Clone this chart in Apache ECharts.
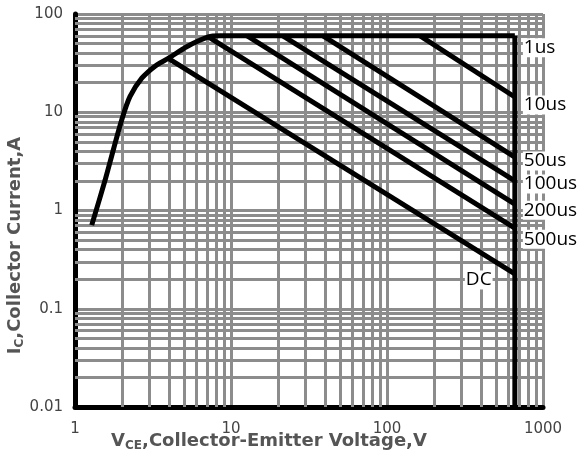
<!DOCTYPE html>
<html><head><meta charset="utf-8">
<script src="https://cdn.jsdelivr.net/npm/echarts@6/dist/echarts.min.js"></script>
<style>html,body{margin:0;padding:0;background:#fff}#c{width:584px;height:457px}</style>
</head><body><div id="c"></div>
<script>
// ---- data ----
const xTicks = [1, 10, 100, 1000];
const yTicks = [0.01, 0.1, 1, 10, 100];
const vceLimit = 660;     // V, right boundary
const icMax = 60;         // A, top boundary
const icMin = 0.01;
const soaCurveV = [1.28, 1.56, 1.76, 1.99, 2.25, 2.68, 3.34, 3.96, 5.2, 7.16, 8.5];
const soaCurveI = [0.71, 2.04, 4.13, 8.3, 14.4, 22.2, 30.3, 35.3, 46.5, 58.5, 60];
const topStartV = 8.5;
const pulseLabels = ['10us', '50us', '100us', '200us', '500us'];
const pulseStartV = [163, 38.9, 21.5, 12.7, 7.2];
const pulseStartI = [60, 60, 60, 60, 58.3];
const pulseEndI = [14.3, 3.5, 2.0, 1.16, 0.66];
const dcStartV = 3.96, dcStartI = 35.3, dcEndI = 0.226;
const topLabel = '1us', dcLabel = 'DC';

// minor grid positions (log decades 2..9)
const xMinor = [], yMinor = [];
[1, 10, 100].forEach(d => { for (let k = 2; k <= 9; k++) xMinor.push(k * d); });
[0.01, 0.1, 1, 10].forEach(d => { for (let k = 2; k <= 9; k++) yMinor.push(+(k * d).toPrecision(3)); });

// ---- styles ----
const pulseOffsets = [8, 4, 3, 6, 11];
const LW = 5;
const gridColor = '#8c8c8c';
const labelStyle = (txt, off) => ({
  show: true, formatter: txt, distance: 8, offset: off,
  fontFamily: 'Open Sans', fontSize: 19, color: '#000',
  backgroundColor: '#fff', padding: [0, 1]
});
const lineBase = { type: 'line', showSymbol: false, symbol: 'none', silent: true, z: 5,
  lineStyle: { color: '#000', width: LW }, emphasis: { disabled: true } };

const series = [];
series.push({
  type: 'line', data: [], silent: true, z: 1,
  markLine: {
    silent: true, symbol: ['none', 'none'], label: { show: false }, animation: false,
    lineStyle: { color: gridColor, width: 3, type: 'solid' },
    emphasis: { disabled: true },
    data: [...xMinor.map(v => ({ xAxis: v })), ...yMinor.map(v => ({ yAxis: v }))]
  }
});
series.push(Object.assign({}, lineBase, { smooth: 0.3, data: soaCurveV.map((v, i) => [v, soaCurveI[i]]) }));
series.push(Object.assign({}, lineBase, { data: [[topStartV, icMax], [vceLimit, icMax]],
  endLabel: labelStyle(topLabel, [0, 12]) }));
series.push(Object.assign({}, lineBase, { data: [[vceLimit, icMax], [vceLimit, icMin]] }));
pulseLabels.forEach((lab, i) => {
  series.push(Object.assign({}, lineBase, {
    data: [[pulseStartV[i], pulseStartI[i]], [vceLimit, pulseEndI[i]]],
    endLabel: labelStyle(lab, [0, pulseOffsets[i]])
  }));
});
series.push(Object.assign({}, lineBase, {
  data: [[dcStartV, dcStartI], [vceLimit, dcEndI]],
  endLabel: labelStyle(dcLabel, [-58, 6])
}));

const fmt = v => String(+v.toPrecision(3));
const axisLabelStyle = { fontFamily: 'DejaVu Sans', fontSize: 15, color: '#444', formatter: fmt };
const nameRich = {
  v: { fontFamily: 'DejaVu Sans', fontWeight: 'bold', fontSize: 18, color: '#555', lineHeight: 22 },
  s: { fontFamily: 'DejaVu Sans', fontWeight: 'bold', fontSize: 12, color: '#555', lineHeight: 14, verticalAlign: 'bottom' }
};

const chart = echarts.init(document.getElementById('c'));
chart.setOption({
  animation: false,
  backgroundColor: '#fff',
  grid: { left: 75, right: 41, top: 14, bottom: 50, containLabel: false, outerBoundsMode: 'none' },
  xAxis: {
    type: 'log', logBase: 10, min: xTicks[0], max: xTicks[xTicks.length - 1],
    axisLine: { show: true, onZero: false, lineStyle: { color: '#000', width: LW } },
    axisTick: { show: false },
    axisLabel: Object.assign({ margin: 15 }, axisLabelStyle),
    splitLine: { show: true, lineStyle: { color: gridColor, width: 3 } },
    name: '{v|V}{s|CE}{v|,Collector-Emitter Voltage,V}',
    nameLocation: 'middle', nameGap: 23, nameMoveOverlap: false,
    nameTextStyle: { rich: nameRich, padding: [0, 80, 0, 0] }
  },
  yAxis: {
    type: 'log', logBase: 10, min: yTicks[0], max: yTicks[yTicks.length - 1],
    axisLine: { show: true, onZero: false, lineStyle: { color: '#000', width: LW } },
    axisTick: { show: false },
    axisLabel: Object.assign({ margin: 12 }, axisLabelStyle),
    splitLine: { show: true, lineStyle: { color: gridColor, width: 3 } },
    name: '{v|I}{s|C}{v|,Collector Current,A}',
    nameLocation: 'middle', nameGap: 49, nameMoveOverlap: false,
    nameTextStyle: { rich: nameRich, padding: [0, 70, 0, 0] }
  },
  series: series
});
</script>
</body></html>
